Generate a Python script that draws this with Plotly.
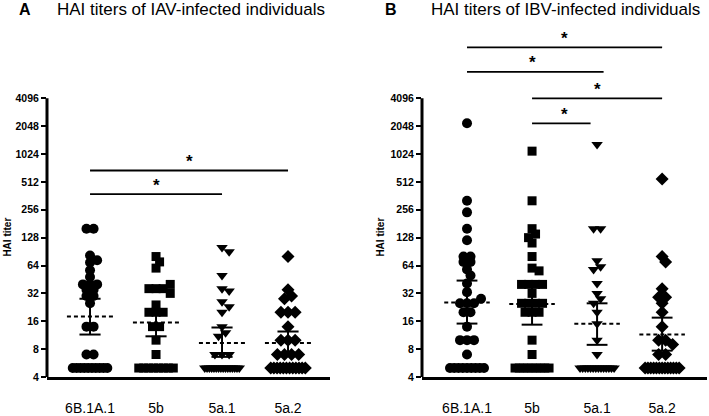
import numpy as np
import plotly.graph_objects as go

categories = ["6B.1A.1", "5b", "5a.1", "5a.2"]
symbols = ["circle", "square", "triangle-down", "diamond"]
marker_sizes = [10, 9, 10, 10]

# Panel A: HAI titers of IAV-infected individuals
iav_6b1a1 = [160, 160, 82, 73, 69, 57, 48, 40, 40, 40, 35, 35, 30, 30, 25, 14, 14, 7, 7,
             5, 5, 5, 5, 5, 5, 5, 5, 5, 5]
iav_5b = [80, 70, 60, 40, 36, 36, 36, 32, 24, 20, 20, 20, 14, 14, 10, 7,
          5, 5, 5, 5, 5, 5, 5, 5]
iav_5a1 = [100, 90, 50, 36, 34, 26, 23, 20, 14, 12, 11, 7, 7, 7,
           5, 5, 5, 5, 5, 5, 5, 5, 5, 5, 5, 5, 5, 5, 5, 5]
iav_5a2 = [80, 35, 30, 28, 20, 20, 20, 14, 10, 10, 10, 7, 7, 7, 7,
           5, 5, 5, 5, 5, 5, 5, 5, 5, 5, 5, 5]
iav_gmt = [18, 15.5, 9.3, 9.3]
iav_ci_low = [11.5, 11, 6.6, 7.3]
iav_ci_high = [28, 21, 13.7, 12.4]

# Panel B: HAI titers of IBV-infected individuals
ibv_6b1a1 = [2200, 320, 240, 160, 120, 80, 80, 70, 70, 58, 50, 41, 33, 28, 25, 25, 25, 20, 20,
             14, 10, 10, 10, 7, 5, 5, 5, 5, 5, 5, 5, 5, 5]
ibv_5b = [1100, 320, 160, 140, 128, 112, 80, 60, 56, 40, 40, 40, 40, 32, 25, 25, 25, 25,
          20, 20, 20, 10, 7, 5, 5, 5, 5, 5, 5, 5, 5, 5]
ibv_5a1 = [1300, 160, 160, 72, 62, 58, 41, 32, 28, 25, 20, 15, 10, 7,
           5, 5, 5, 5, 5, 5, 5, 5, 5, 5, 5, 5, 5, 5]
ibv_5a2 = [550, 80, 70, 36, 29, 29, 25, 20, 14, 10, 10, 9, 7, 7,
           5, 5, 5, 5, 5, 5, 5, 5, 5, 5, 5, 5, 5]
ibv_gmt = [25.5, 24.5, 15, 11.5]
ibv_ci_low = [15.1, 14.7, 8.9, 7.7]
ibv_ci_high = [44, 40, 25, 17.5]

# significance brackets: (from category, to category, bracket height titer)
iav_sig = [(0, 2, 378), (0, 3, 680)]
ibv_sig = [(0, 3, 14500), (0, 2.1, 7900), (1, 3, 4096), (1, 1.9, 2200)]

y_ticks = [4, 8, 16, 32, 64, 128, 256, 512, 1024, 2048, 4096]


def swarm(values, d=7.0, ppu=65.0, ppd=28.2, row_half=17.0):
    """Beeswarm horizontal offsets (in category units)."""
    vals = np.asarray(values, float)
    ys = np.log2(vals) * ppd
    xs = np.full(len(vals), np.nan)
    placed = []
    uniq, counts = np.unique(vals, return_counts=True)
    for u, c in zip(uniq, counts):
        if c >= 2:
            idx = np.where(vals == u)[0]
            step = min(d, 2 * row_half / (c - 1))
            offs = (np.arange(c) - (c - 1) / 2) * step
            xs[idx] = offs
            for i, o in zip(idx, offs):
                placed.append((o, ys[i]))
    rest = [i for i in np.argsort(-vals) if np.isnan(xs[i])]
    cand = [0.0]
    for k in range(1, 20):
        cand += [k * d / 2, -k * d / 2]
    for i in rest:
        for c in cand:
            if all((c - px) ** 2 + (ys[i] - py) ** 2 >= (d * 0.9) ** 2 for px, py in placed):
                xs[i] = c
                break
        placed.append((xs[i], ys[i]))
    return xs / ppu


fig = go.Figure()

panels = [
    ("x", "y", [iav_6b1a1, iav_5b, iav_5a1, iav_5a2], iav_gmt, iav_ci_low, iav_ci_high, iav_sig),
    ("x2", "y2", [ibv_6b1a1, ibv_5b, ibv_5a1, ibv_5a2], ibv_gmt, ibv_ci_low, ibv_ci_high, ibv_sig),
]

for xa, ya, groups, gmt, lo, hi, sig in panels:
    for gi, vals in enumerate(groups):
        offs = swarm(vals)
        fig.add_trace(go.Scatter(
            x=gi + offs, y=vals, mode="markers", xaxis=xa, yaxis=ya,
            marker=dict(symbol=symbols[gi], size=marker_sizes[gi], color="black",
                        line=dict(width=0)),
            showlegend=False, hoverinfo="y"))
        # geometric mean (dashed)
        fig.add_trace(go.Scatter(
            x=[gi - 0.35, gi + 0.35], y=[gmt[gi], gmt[gi]], mode="lines", xaxis=xa, yaxis=ya,
            line=dict(color="black", width=2, dash="4px,3px"), showlegend=False, hoverinfo="skip"))
        # 95% CI
        fig.add_trace(go.Scatter(
            x=[gi, gi, None, gi - 0.16, gi + 0.16, None, gi - 0.16, gi + 0.16],
            y=[lo[gi], hi[gi], None, lo[gi], lo[gi], None, hi[gi], hi[gi]],
            mode="lines", xaxis=xa, yaxis=ya,
            line=dict(color="black", width=2), showlegend=False, hoverinfo="skip"))
    for a, b, h in sig:
        fig.add_trace(go.Scatter(
            x=[a, b], y=[h, h], mode="lines", xaxis=xa, yaxis=ya,
            line=dict(color="black", width=1.8), showlegend=False, hoverinfo="skip"))
        fig.add_annotation(x=(round(a) + round(b)) / 2, y=np.log10(h), xref=xa, yref=ya,
                           text="<b>*</b>", showarrow=False, yanchor="middle", yshift=9,
                           font=dict(family="Arial", size=17, color="black"))
    # y axis line from 4 to 4096
    fig.add_shape(type="line", xref=xa + " domain", yref=ya, x0=0, x1=0, y0=4, y1=4096,
                  line=dict(color="black", width=3))

yrange = [np.log10(4), 14.45 * np.log10(2)]
yax = dict(type="log", range=yrange, tickvals=y_ticks, ticktext=[str(t) for t in y_ticks],
           showline=False, ticks="outside", ticklen=5, tickwidth=2, tickcolor="black",
           showgrid=False, zeroline=False,
           tickfont=dict(family="Arial", size=10.5, color="black", weight="bold"))
xax = dict(tickvals=[0, 1, 2, 3], ticktext=categories, showline=True, linewidth=3,
           linecolor="black", ticks="", showgrid=False, zeroline=False,
           ticklabelstandoff=16, tickfont=dict(family="Arial", size=14, color="black"))

fig.update_layout(
    width=709, height=416, margin=dict(l=0, r=0, t=30, b=35),
    paper_bgcolor="white", plot_bgcolor="white",
    xaxis=dict(xax, domain=[47 / 709, 330 / 709], range=[-0.652, 3.636]),
    xaxis2=dict(xax, domain=[422 / 709, 707 / 709], range=[-0.692, 3.69]),
    yaxis=dict(yax, anchor="x"),
    yaxis2=dict(yax, anchor="x2"),
)

# panel titles
for lab, xl, xt, txt in [("A", 25, 55, "HAI titers of IAV-infected individuals"),
                         ("B", 391, 429, "HAI titers of IBV-infected individuals")]:
    fig.add_annotation(x=xl / 709, y=(381 - 9) / 351, xref="paper", yref="paper",
                       text="<b>" + lab + "</b>", showarrow=False,
                       xanchor="center", yanchor="middle",
                       font=dict(family="Arial", size=16, color="black"))
    fig.add_annotation(x=xt / 709, y=(381 - 9) / 351, xref="paper", yref="paper",
                       text=txt, showarrow=False, xanchor="left", yanchor="middle",
                       font=dict(family="Arial", size=17, color="black"))

# y-axis titles
for xp in [8, 381]:
    fig.add_annotation(x=xp / 709, y=(381 - 240) / 351, xref="paper", yref="paper",
                       text="<b>HAI titer</b>", showarrow=False, textangle=-90,
                       xanchor="center", yanchor="middle",
                       font=dict(family="Arial", size=10, color="black"))

fig.write_html("out.html")
